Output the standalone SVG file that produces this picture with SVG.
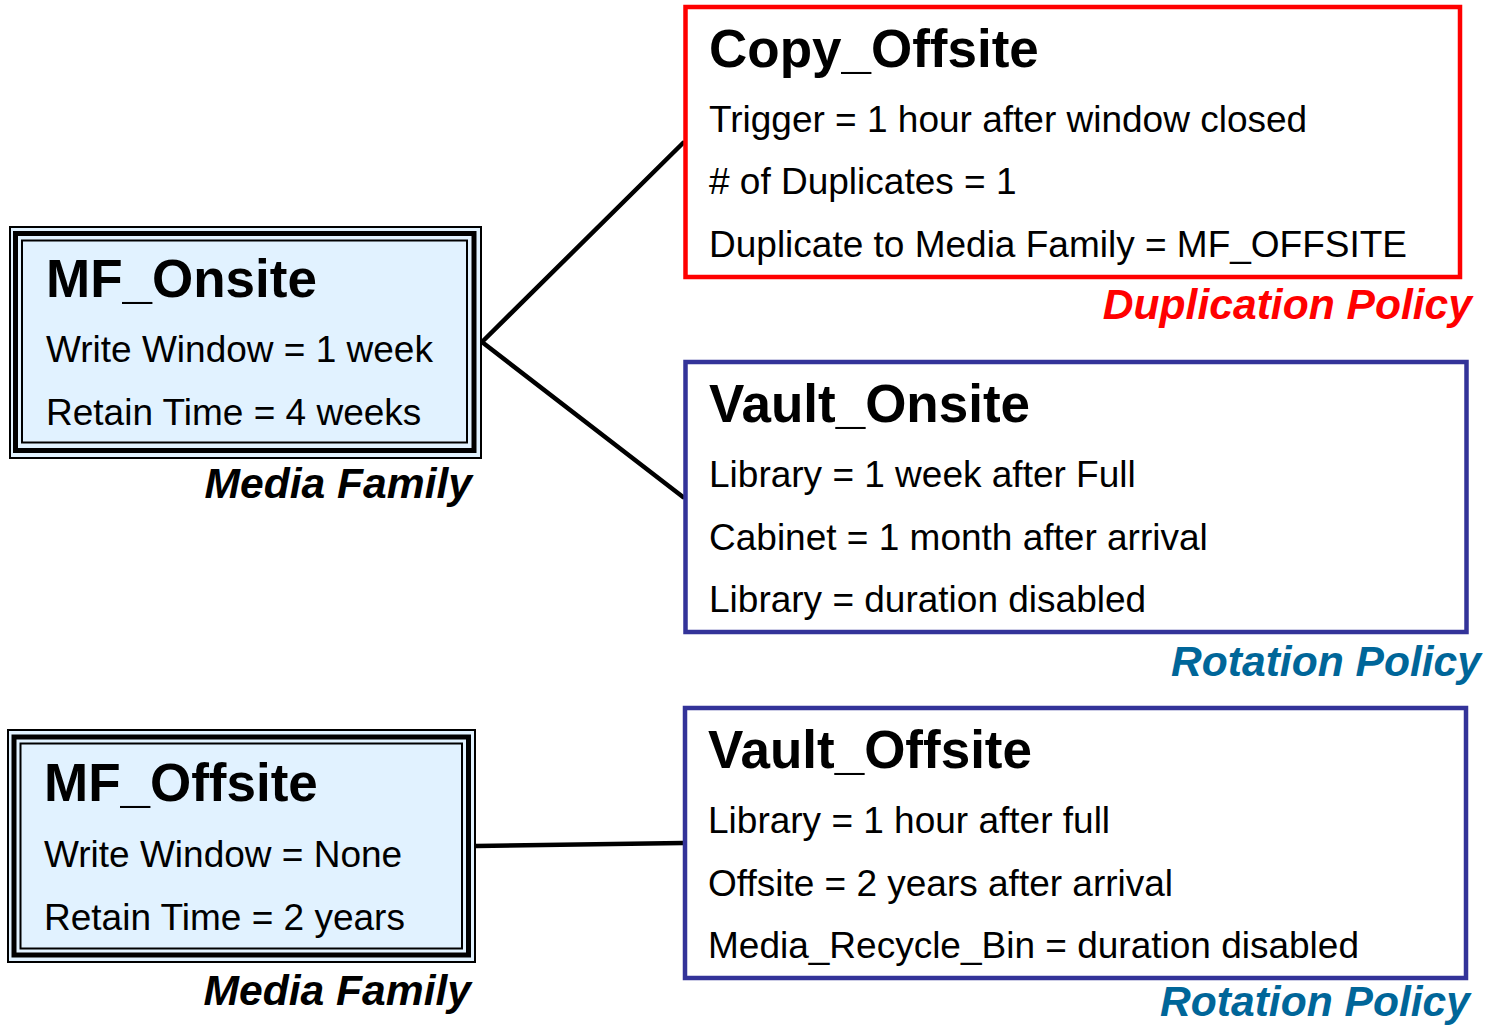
<svg xmlns="http://www.w3.org/2000/svg" width="1488" height="1025" viewBox="0 0 1488 1025">
<style>
text{font-family:"Liberation Sans",Arial,sans-serif;fill:#000}
.t{font-weight:bold;font-size:53px}
.b{font-size:37px}
.lbl{font-weight:bold;font-style:italic;font-size:42.6px;text-anchor:end}
.mf{fill:#e1f2ff;stroke:#000}
.o{stroke-width:2}
.k{stroke-width:5;fill:none}
.i{stroke-width:2;fill:none}
.dup{fill:#fff;stroke:#ff0000;stroke-width:4.5}
.rot{fill:#fff;stroke:#333399;stroke-width:4.5}
.con{stroke:#000;stroke-width:4.5;fill:none;stroke-linecap:round;stroke-linejoin:round}
</style>
<rect width="1488" height="1025" fill="#fff"/>
<g id="connectors">
<polyline class="con" points="683,143 482,342 683,497"/>
<line class="con" x1="476" y1="846" x2="683" y2="843"/>
</g>
<g id="mf_onsite">
<rect class="mf o" x="10" y="227" width="471" height="231"/>
<rect class="mf k" x="15.5" y="233.5" width="458.5" height="217"/>
<rect class="mf i" x="22" y="240.5" width="445" height="202"/>
<text class="t" x="46" y="297">MF_Onsite</text>
<text class="b" x="46" y="362">Write Window = 1 week</text>
<text class="b" x="46" y="425">Retain Time = 4 weeks</text>
<text class="lbl" x="472" y="498">Media Family</text>
</g>
<g id="mf_offsite">
<rect class="mf o" x="8" y="730" width="467" height="232"/>
<rect class="mf k" x="14" y="737" width="454.5" height="218"/>
<rect class="mf i" x="20.5" y="743.5" width="441.5" height="205"/>
<text class="t" x="44" y="801">MF_Offsite</text>
<text class="b" x="44" y="867">Write Window = None</text>
<text class="b" x="44" y="930">Retain Time = 2 years</text>
<text class="lbl" x="471" y="1005">Media Family</text>
</g>
<g id="copy_offsite">
<rect class="dup" x="685.5" y="7" width="774.5" height="270"/>
<text class="t" x="709" y="67">Copy_Offsite</text>
<text class="b" x="709" y="132">Trigger = 1 hour after window closed</text>
<text class="b" x="709" y="194">&#35; of Duplicates = 1</text>
<text class="b" x="709" y="257">Duplicate to Media Family = MF_OFFSITE</text>
<text class="lbl" x="1472" y="319" style="fill:#ff0000">Duplication Policy</text>
</g>
<g id="vault_onsite">
<rect class="rot" x="685.5" y="362" width="781" height="270"/>
<text class="t" x="709" y="422">Vault_Onsite</text>
<text class="b" x="709" y="487">Library = 1 week after Full</text>
<text class="b" x="709" y="550">Cabinet = 1 month after arrival</text>
<text class="b" x="709" y="612">Library = duration disabled</text>
<text class="lbl" x="1481" y="676" style="fill:#006699">Rotation Policy</text>
</g>
<g id="vault_offsite">
<rect class="rot" x="685" y="708" width="781" height="270"/>
<text class="t" x="708" y="768">Vault_Offsite</text>
<text class="b" x="708" y="833">Library = 1 hour after full</text>
<text class="b" x="708" y="896">Offsite = 2 years after arrival</text>
<text class="b" x="708" y="958">Media_Recycle_Bin = duration disabled</text>
<text class="lbl" x="1470" y="1016" style="fill:#006699">Rotation Policy</text>
</g>
</svg>
